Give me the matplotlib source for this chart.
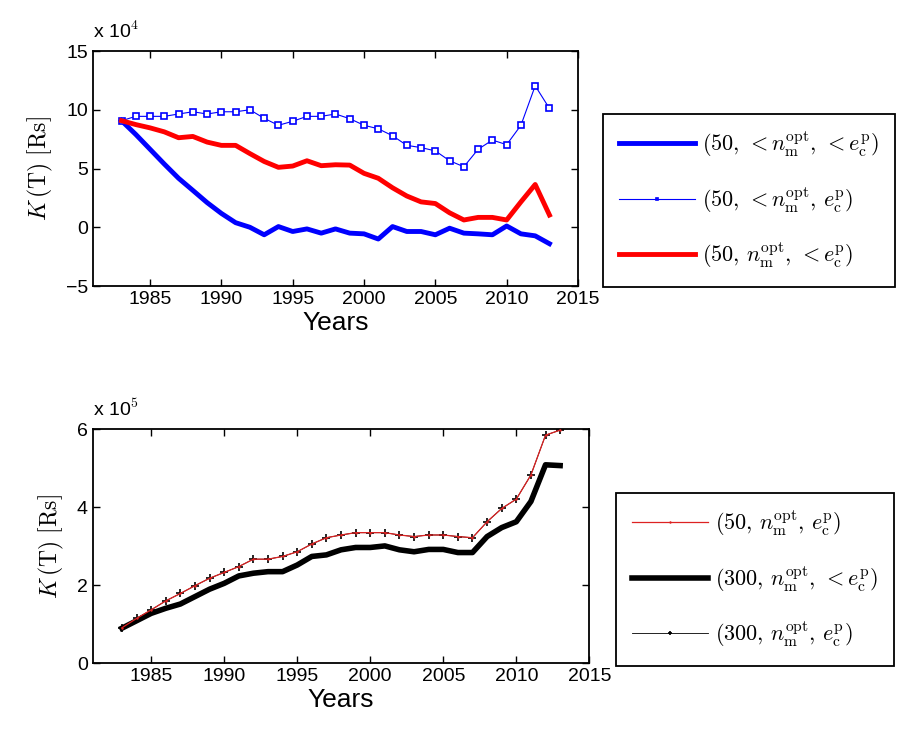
import matplotlib
matplotlib.use("Agg")
import matplotlib.pyplot as plt

plt.rcParams['font.family'] = ['Liberation Sans', 'DejaVu Sans']
plt.rcParams['mathtext.fontset'] = 'cm'

years = [1983, 1984, 1985, 1986, 1987, 1988, 1989, 1990, 1991, 1992,
         1993, 1994, 1995, 1996, 1997, 1998, 1999, 2000, 2001, 2002,
         2003, 2004, 2005, 2006, 2007, 2008, 2009, 2010, 2011, 2012, 2013]

# top panel, values in units of 1e4 Rs
blue_thick = [9.07, 7.9, 6.64, 5.38, 4.17, 3.14, 2.1, 1.18, 0.39, 0.0,
              -0.64, 0.06, -0.36, -0.14, -0.5, -0.14, -0.5, -0.56, -1.0, 0.06,
              -0.36, -0.36, -0.64, -0.08, -0.5, -0.56, -0.64, 0.11, -0.56, -0.73, -1.4]
blue_sq = [9.07, 9.44, 9.44, 9.44, 9.64, 9.83, 9.64, 9.83, 9.83, 10.0,
           9.27, 8.68, 9.02, 9.44, 9.44, 9.64, 9.24, 8.68, 8.38, 7.79,
           6.97, 6.78, 6.5, 5.66, 5.15, 6.64, 7.42, 7.03, 8.68, 12.04, 10.11]
red_thick = [9.07, 8.74, 8.46, 8.12, 7.62, 7.73, 7.25, 6.97, 6.97, 6.27,
             5.6, 5.1, 5.21, 5.66, 5.24, 5.32, 5.29, 4.59, 4.17, 3.36,
             2.66, 2.16, 2.02, 1.23, 0.62, 0.84, 0.84, 0.62, 2.16, 3.64, 1.04]

# bottom panel, values in units of 1e5 Rs
red_thin = [0.91, 1.15, 1.37, 1.6, 1.79, 1.99, 2.18, 2.33, 2.48, 2.67,
            2.67, 2.74, 2.86, 3.06, 3.22, 3.29, 3.35, 3.35, 3.35, 3.29,
            3.25, 3.29, 3.29, 3.25, 3.22, 3.63, 3.97, 4.21, 4.83, 5.85, 5.98]
black_thick = [0.9, 1.09, 1.28, 1.41, 1.52, 1.71, 1.9, 2.05, 2.24, 2.31,
               2.35, 2.35, 2.52, 2.74, 2.78, 2.91, 2.97, 2.97, 3.01, 2.91,
               2.86, 2.92, 2.92, 2.84, 2.84, 3.25, 3.48, 3.63, 4.15, 5.09, 5.07]
black_thin = red_thin

top_labels = [r'$(50,\,<n_{\mathrm{m}}^{\mathrm{opt}},\,<e_{\mathrm{c}}^{\mathrm{p}})$',
              r'$(50,\,<n_{\mathrm{m}}^{\mathrm{opt}},\,e_{\mathrm{c}}^{\mathrm{p}})$',
              r'$(50,\,n_{\mathrm{m}}^{\mathrm{opt}},\,<e_{\mathrm{c}}^{\mathrm{p}})$']
bot_labels = [r'$(50,\,n_{\mathrm{m}}^{\mathrm{opt}},\,e_{\mathrm{c}}^{\mathrm{p}})$',
              r'$(300,\,n_{\mathrm{m}}^{\mathrm{opt}},\,<e_{\mathrm{c}}^{\mathrm{p}})$',
              r'$(300,\,n_{\mathrm{m}}^{\mathrm{opt}},\,e_{\mathrm{c}}^{\mathrm{p}})$']

fig = plt.figure(figsize=(9.01, 7.33), dpi=100)
ax1 = fig.add_axes([0.1032, 0.6098, 0.5383, 0.3206])
ax2 = fig.add_axes([0.1029, 0.0951, 0.5512, 0.3192])

l1, = ax1.plot(years, blue_thick, color='blue', lw=3.5)
l2, = ax1.plot(years, blue_sq, color='blue', lw=0.8, marker='s', ms=4,
               mfc='white', mec='blue', mew=1.2)
l3, = ax1.plot(years, red_thick, color='red', lw=3.5)

b2, = ax2.plot(years, black_thick, color='black', lw=4)
b3, = ax2.plot(years, black_thin, color='black', lw=0.6, marker='+', ms=6, mew=1.2, zorder=3)
b1, = ax2.plot(years, red_thin, color='#dd2222', lw=0.9, marker='+', ms=2, zorder=4)

ax1.set_ylim(-5, 15)
ax1.set_yticks([-5, 0, 5, 10, 15])
ax2.set_ylim(0, 6)
ax2.set_yticks([0, 2, 4, 6])

for ax, exp in ((ax1, 4), (ax2, 5)):
    ax.set_xlim(1981, 2015)
    ax.set_xticks([1985, 1990, 1995, 2000, 2005, 2010, 2015])
    ax.tick_params(direction='in', top=True, right=True, labelsize=14, length=5, width=1)
    for s in ax.spines.values():
        s.set_linewidth(1.3)
    ax.set_xlabel('Years', fontsize=19, labelpad=2)
    ax.set_ylabel(r'$K\,(\mathrm{T})\ [\mathrm{Rs}]$', fontsize=17, labelpad=8)
    ax.text(0.0, 1.04, r'x 10$^{%d}$' % exp, transform=ax.transAxes,
            fontsize=14, ha='left', va='bottom')

leg_kw = dict(loc='upper left', fontsize=16, handlelength=3.4, labelspacing=1.2,
              borderpad=0.75, handletextpad=0.3, borderaxespad=0, fancybox=False,
              edgecolor='black', framealpha=1, markerscale=0.5)
leg1 = fig.legend([l1, l2, l3], top_labels, bbox_to_anchor=(0.669, 0.8445), **leg_kw)
leg1.get_frame().set_linewidth(1.3)
leg2 = fig.legend([b1, b2, b3], bot_labels, bbox_to_anchor=(0.6834, 0.3274), **leg_kw)
leg2.get_frame().set_linewidth(1.3)

fig.savefig('out.png', dpi=100)
